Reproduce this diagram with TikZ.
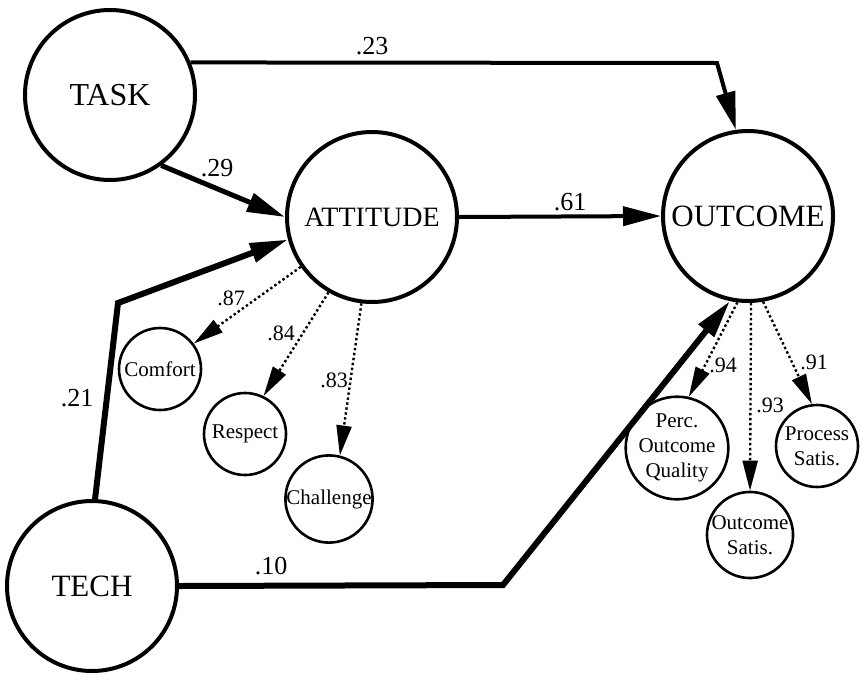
\documentclass[tikz,border=0pt]{standalone}
\usepackage{fontspec}
\setmainfont{Liberation Serif}
\usetikzlibrary{arrows.meta}
\begin{document}
\begin{tikzpicture}[x=1pt,y=-1pt,
  latent/.style={circle, draw, line width=4pt, inner sep=0pt, minimum size=170pt},
  indicator/.style={circle, draw, line width=2.6pt, inner sep=0pt, minimum size=82pt,
    align=center, font=\fontsize{21}{25}\selectfont},
  strong/.style={line width=5pt, -{Triangle[length=38pt,width=19pt]}},
  loading/.style={line width=2.4pt, dash pattern=on 2.4pt off 2.6pt,
    -{Triangle[length=30pt,width=15pt]}},
  coef/.style={font=\fontsize{26}{30}\selectfont, inner sep=0pt},
  lcoef/.style={font=\fontsize{22}{25}\selectfont, inner sep=0pt}]
\useasboundingbox (0,0) rectangle (861,675);

% latent constructs
\node[latent, font=\fontsize{32}{38}\selectfont] (task) at (110,95)  {TASK};
\node[latent, font=\fontsize{28}{34}\selectfont] (att)  at (372,217) {ATTITUDE};
\node[latent, font=\fontsize{31}{37}\selectfont] (out)  at (748,216) {OUTCOME};
\node[latent, font=\fontsize{31}{37}\selectfont] (tech) at (92,586)  {TECH};

% indicators
\node[indicator] (comfort)   at (160,369) {Comfort};
\node[indicator] (respect)   at (245,434) {Respect};
\node[indicator] (challenge) at (329,499) {Challenge};
\node[indicator] (perc)      at (677,448) {Perc.\\Outcome\\Quality};
\node[indicator] (osat)      at (750,535) {Outcome\\Satis.};
\node[indicator] (psat)      at (817,446) {Process\\Satis.};

% bends of the structural paths
\coordinate (c1) at (717,63);
\coordinate (c2) at (118,303);
\coordinate (c3) at (503,585);

% structural paths
\draw[strong, line width=4pt] (task.22) -- (c1) -- (out.98);
\draw[strong] (task.306) -- (att.180);
\draw[strong, line width=6pt] (tech.88) -- (c2) -- (att.195);
\draw[strong, line width=4pt] (att.0) -- (out.180);
\draw[strong, line width=6pt] (tech.0) -- (c3) -- (out.258);

% measurement loadings
\draw[loading] (att.215) -- (comfort.37);
\draw[loading] (att.240) -- (respect.64);
\draw[loading] (att.263) -- (challenge.76);
\draw[loading] (out.263) -- (perc.77);
\draw[loading] (out.272) -- (osat.90);
\draw[loading] (out.280) -- (psat.97);

% coefficients
\node[coef] (k23) at (372,46)  {.23};
\node[coef] (k29) at (217,168) {.29};
\node[coef] (k61) at (570,202) {.61};
\node[coef] (k21) at (77,398)  {.21};
\node[coef] (k10) at (271,566) {.10};
\node[lcoef] (k87) at (231,298) {.87};
\node[lcoef] (k84) at (281,333) {.84};
\node[lcoef] (k83) at (334,380) {.83};
\node[lcoef] (k94) at (723,365) {.94};
\node[lcoef] (k93) at (770,405) {.93};
\node[lcoef] (k91) at (814,362) {.91};
\end{tikzpicture}
\end{document}
